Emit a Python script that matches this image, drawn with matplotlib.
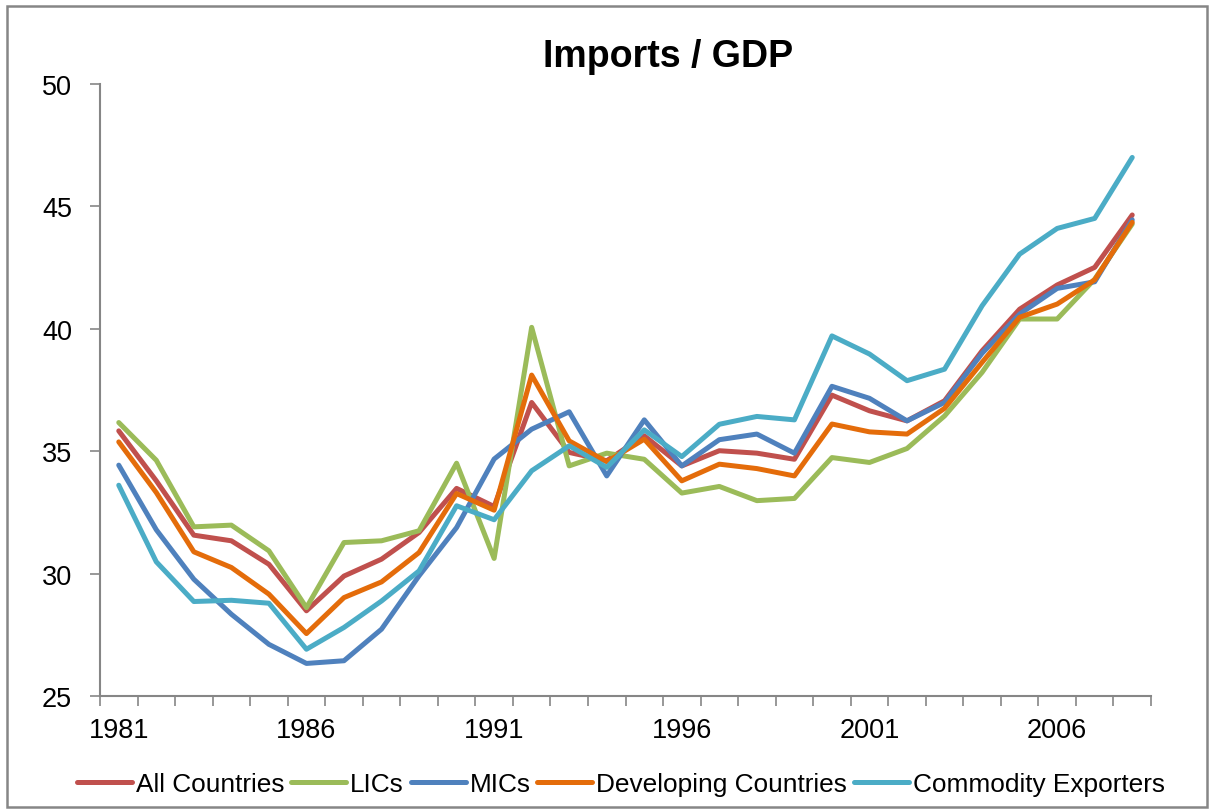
import matplotlib
matplotlib.use("Agg")
import matplotlib.pyplot as plt
from matplotlib.patches import Rectangle

plt.rcParams['font.family'] = ['Liberation Sans', 'DejaVu Sans']

# Data
years = list(range(1981, 2009))
all_countries = [35.83, 33.79, 31.57, 31.34, 30.38, 28.48, 29.90, 30.59, 31.68, 33.48,
                 32.74, 36.99, 34.95, 34.61, 35.63, 34.40, 35.02, 34.92, 34.67, 37.29,
                 36.65, 36.24, 37.06, 39.10, 40.80, 41.79, 42.51, 44.65]
lics = [36.17, 34.63, 31.91, 31.98, 30.93, 28.61, 31.27, 31.34, 31.75, 34.51,
        30.62, 40.06, 34.40, 34.92, 34.67, 33.29, 33.56, 32.98, 33.07, 34.74,
        34.54, 35.11, 36.44, 38.22, 40.40, 40.40, 42.03, 44.28]
mics = [34.43, 31.79, 29.77, 28.34, 27.11, 26.33, 26.44, 27.73, 29.91, 31.88,
        34.68, 35.90, 36.61, 33.99, 36.28, 34.40, 35.47, 35.70, 34.92, 37.65,
        37.16, 36.24, 36.99, 39.00, 40.60, 41.65, 41.92, 44.45]
developing = [35.38, 33.31, 30.89, 30.25, 29.16, 27.55, 29.02, 29.66, 30.86, 33.27,
              32.59, 38.11, 35.42, 34.57, 35.49, 33.79, 34.47, 34.29, 33.99, 36.11,
              35.79, 35.70, 36.75, 38.63, 40.47, 41.01, 42.00, 44.35]
commodity = [33.61, 30.48, 28.86, 28.91, 28.79, 26.91, 27.80, 28.88, 30.11, 32.77,
             32.20, 34.20, 35.22, 34.34, 35.87, 34.78, 36.10, 36.42, 36.28, 39.71,
             38.97, 37.88, 38.35, 40.94, 43.05, 44.10, 44.51, 47.00]

series = [
    ("All Countries", all_countries, "#C0504D"),
    ("LICs", lics, "#9BBB59"),
    ("MICs", mics, "#4F81BD"),
    ("Developing Countries", developing, "#E46C0A"),
    ("Commodity Exporters", commodity, "#4BACC6"),
]

fig = plt.figure(figsize=(12.09, 8.12), dpi=100)
ax = fig.add_axes([100 / 1209, 1 - 697 / 812, 1051 / 1209, 612 / 812])

x = list(range(len(years)))
for name, vals, col in series:
    ax.plot(x, vals, color=col, lw=3.6, label=name,
            solid_capstyle='round', solid_joinstyle='round')

axis_col = "#868686"
ax.set_ylim(25, 50)
ax.set_yticks(range(25, 51, 5))
ax.set_xlim(-0.5, len(years) - 0.5)
ax.set_xticks([i - 0.5 for i in range(len(years) + 1)])
ax.set_xticklabels([])
ax.set_xticks(x[::5], minor=True)
ax.set_xticklabels([str(y) for y in years[::5]], minor=True)
ax.tick_params(axis='x', which='major', length=7, width=1.2, color=axis_col, direction='out')
ax.tick_params(axis='x', which='minor', length=0, labelsize=19.5, pad=15)
ax.tick_params(axis='y', length=7, width=1.2, color=axis_col, labelsize=19.5, pad=13)
for s in ['top', 'right']:
    ax.spines[s].set_visible(False)
for s in ['left', 'bottom']:
    ax.spines[s].set_color(axis_col)
    ax.spines[s].set_linewidth(1.5)

fig.text(668 / 1209, 1 - 57 / 812, "Imports / GDP", fontsize=27, fontweight='bold',
         ha='center', va='center')

fig.legend(loc='center', bbox_to_anchor=(621 / 1209, 1 - 785 / 812), ncol=5,
           frameon=False, fontsize=18.9, handlelength=2.1, handletextpad=0.15,
           columnspacing=0.25, borderaxespad=0)

fig.patches.append(Rectangle((7 / 1209, 4 / 812), 1200 / 1209, 801 / 812,
                             transform=fig.transFigure, fill=False,
                             edgecolor=axis_col, lw=1.8))

fig.savefig("out.png", dpi=100)
